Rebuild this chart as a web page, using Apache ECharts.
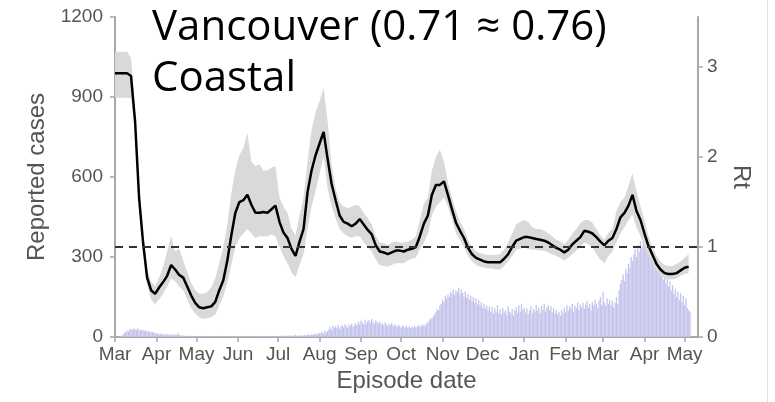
<!DOCTYPE html>
<html>
<head>
<meta charset="utf-8">
<script src="https://cdn.jsdelivr.net/npm/echarts@6/dist/echarts.min.js"></script>
<style>html,body{margin:0;padding:0;background:#fff}#chart{width:775px;height:402px}</style>
</head>
<body>
<div id="chart"></div>
<script>
// ---------- data ----------
const titleLines = ['Vancouver (0.71 \u2248 0.76)', 'Coastal'];
const startDate = '2020-03-01';
const endDate = '2021-05-11';
const monthTicks = ['2020-03-01','2020-04-01','2020-05-01','2020-06-01','2020-07-01','2020-08-01','2020-09-01',
  '2020-10-01','2020-11-01','2020-12-01','2021-01-01','2021-02-01','2021-03-01','2021-04-01','2021-05-01'];
const monthLabels = ['Mar','Apr','May','Jun','Jul','Aug','Sep','Oct','Nov','Dec','Jan','Feb','Mar','Apr','May'];
const caseTicks = [0, 300, 600, 900, 1200];
const rtTicks = [0, 1, 2, 3];

// daily reported cases, from startDate
const dailyCases = [
  0,1,0,2,3,5,8,15,20,24,
  22,28,30,26,32,29,27,33,25,28,
  24,27,22,25,20,23,18,21,17,19,
  14,12,15,10,13,9,12,8,11,10,
  7,9,8,10,6,9,7,15,8,6,
  5,7,4,6,3,5,4,3,5,2,
  4,3,2,4,3,2,3,4,2,3,
  2,3,4,2,3,2,4,3,2,3,
  2,3,2,4,2,3,2,3,4,2,
  3,2,4,3,2,3,2,3,2,4,
  3,2,3,5,2,3,4,2,3,2,
  3,4,2,3,2,4,3,5,2,3,
  4,3,5,3,4,6,3,5,4,6,
  5,7,4,6,5,8,4,6,5,7,
  6,5,8,6,7,9,6,10,8,12,
  9,14,11,16,13,20,12,24,18,22,
  30,38,26,42,35,40,33,45,30,38,
  44,36,48,40,35,47,42,50,38,44,
  52,45,58,48,62,55,46,66,50,60,
  64,52,68,57,48,62,55,50,58,46,
  52,44,55,48,42,50,45,53,40,47,
  44,38,46,41,35,43,39,36,42,34,
  40,33,38,36,42,35,39,44,37,45,
  42,48,40,50,55,62,70,68,78,85,
  95,105,100,118,125,140,132,155,145,160,
  150,170,162,180,158,175,168,185,160,178,
  165,150,172,148,160,140,155,135,150,128,
  145,122,138,118,130,110,125,105,118,100,
  115,96,112,88,108,95,120,90,105,85,
  110,92,100,82,115,95,88,105,80,100,
  112,90,118,95,125,102,110,92,108,85,
  100,115,88,105,95,120,98,110,90,118,
  102,125,95,112,120,100,115,92,108,88,
  100,85,95,80,102,88,110,92,120,98,
  115,105,125,95,118,108,130,100,122,112,
  128,105,120,135,110,125,100,132,118,140,
  125,108,135,150,120,170,130,115,145,125,
  140,118,135,110,128,150,125,175,200,215,
  235,210,255,240,275,260,300,285,310,330,
  300,345,320,360,335,370,340,355,315,330,
  295,310,280,300,260,285,245,270,230,255,
  215,240,200,225,190,210,175,195,160,180,
  150,170,140,165,130,155,120,145,110,100,
  95
];

// Rt estimates every rtStepDays days from startDate
const rtStepDays = 3;
const rtMean = [
  2.93,2.93,2.93,2.93,2.90,2.40,1.55,1.05,0.66,0.52,
  0.48,0.55,0.61,0.68,0.80,0.75,0.69,0.66,0.56,0.46,
  0.38,0.33,0.32,0.33,0.34,0.39,0.52,0.63,0.85,1.13,
  1.38,1.50,1.52,1.58,1.47,1.38,1.38,1.39,1.38,1.42,
  1.46,1.28,1.16,1.10,0.98,0.90,1.06,1.20,1.61,1.85,
  2.02,2.15,2.28,1.98,1.70,1.52,1.35,1.28,1.26,1.23,
  1.26,1.31,1.25,1.19,1.14,1.02,0.95,0.94,0.92,0.94,
  0.96,0.96,0.95,0.97,0.98,1.00,1.12,1.26,1.35,1.58,
  1.69,1.69,1.73,1.58,1.42,1.27,1.18,1.10,0.99,0.92,
  0.88,0.86,0.84,0.83,0.83,0.83,0.83,0.87,0.92,1.00,
  1.07,1.09,1.11,1.11,1.10,1.09,1.08,1.07,1.05,1.02,
  0.99,0.97,0.94,0.97,1.03,1.07,1.11,1.18,1.17,1.15,
  1.11,1.06,1.02,1.07,1.10,1.20,1.33,1.38,1.46,1.58,
  1.40,1.30,1.15,1.01,0.91,0.81,0.75,0.71,0.70,0.70,
  0.71,0.74,0.77,0.78
];
const rtUpper = [
  3.17,3.17,3.17,3.17,3.10,2.50,1.65,1.15,0.75,0.62,
  0.56,0.66,0.78,0.95,1.12,0.95,0.98,0.85,0.72,0.60,
  0.52,0.48,0.48,0.50,0.55,0.65,0.82,1.00,1.25,1.60,
  1.85,2.02,2.10,2.27,1.95,1.90,1.92,1.85,1.85,1.88,
  1.90,1.55,1.45,1.38,1.20,1.13,1.35,1.55,1.95,2.30,
  2.50,2.62,2.77,2.40,1.90,1.65,1.50,1.45,1.43,1.45,
  1.47,1.45,1.38,1.32,1.25,1.12,1.05,1.04,1.02,1.05,
  1.06,1.05,1.05,1.06,1.08,1.12,1.30,1.48,1.55,1.85,
  2.00,2.08,1.95,1.72,1.55,1.40,1.28,1.20,1.08,1.00,
  0.95,0.93,0.92,0.91,0.91,0.91,0.92,0.97,1.05,1.15,
  1.25,1.28,1.30,1.28,1.22,1.20,1.20,1.18,1.15,1.12,
  1.08,1.06,1.03,1.08,1.15,1.20,1.27,1.30,1.30,1.27,
  1.20,1.13,1.08,1.16,1.20,1.40,1.50,1.55,1.68,1.82,
  1.62,1.45,1.30,1.12,1.00,0.90,0.84,0.80,0.79,0.79,
  0.81,0.84,0.88,0.92
];
const rtLower = [
  2.66,2.66,2.66,2.66,2.65,2.30,1.45,0.95,0.58,0.42,
  0.36,0.42,0.48,0.56,0.65,0.62,0.56,0.52,0.42,0.32,
  0.26,0.22,0.20,0.21,0.22,0.25,0.35,0.45,0.60,0.80,
  1.00,1.10,1.15,1.20,1.15,1.10,1.12,1.12,1.12,1.14,
  1.12,1.00,0.90,0.82,0.72,0.66,0.80,0.92,1.20,1.45,
  1.62,1.82,2.00,1.65,1.45,1.32,1.20,1.15,1.12,1.10,
  1.12,1.12,1.05,1.00,0.95,0.86,0.80,0.79,0.78,0.80,
  0.82,0.82,0.82,0.85,0.87,0.88,0.98,1.05,1.15,1.35,
  1.45,1.50,1.55,1.45,1.30,1.15,1.08,1.00,0.90,0.84,
  0.80,0.78,0.77,0.76,0.76,0.75,0.75,0.79,0.84,0.90,
  0.97,0.98,1.00,0.98,0.97,0.97,0.96,0.96,0.94,0.92,
  0.90,0.88,0.85,0.88,0.92,0.96,1.00,1.05,1.03,1.00,
  0.92,0.86,0.82,0.90,0.95,1.05,1.15,1.22,1.30,1.36,
  1.22,1.12,1.00,0.90,0.82,0.74,0.69,0.65,0.64,0.64,
  0.65,0.68,0.70,0.71
];

// ---------- helpers ----------
function dayIndex(s) {
  const a = s.split('-').map(Number);
  const b = startDate.split('-').map(Number);
  return Math.round((Date.UTC(a[0], a[1] - 1, a[2]) - Date.UTC(b[0], b[1] - 1, b[2])) / 86400000);
}
const tickDays = monthTicks.map(dayIndex);
const labelByDay = {};
tickDays.forEach((d, i) => { labelByDay[d] = monthLabels[i]; });
const xMax = dayIndex(endDate);
const rtAxisMax = 3.556;

const caseData = dailyCases.map((v, i) => [i, v]);
const rtMeanData = rtMean.map((v, i) => [i * rtStepDays, v]);
const rtBandData = rtUpper.map((v, i) => [i * rtStepDays, v, rtLower[i]]);

const axisGrey = '#a8a8a8';
const labelGrey = '#555555';
const fontFam = '"Liberation Sans", Arial, sans-serif';

function renderBand(params, api) {
  if (params.dataIndex !== 0) return null;
  const pts = [];
  for (let i = 0; i < rtBandData.length; i++) pts.push(api.coord([rtBandData[i][0], rtBandData[i][1]]));
  for (let i = rtBandData.length - 1; i >= 0; i--) pts.push(api.coord([rtBandData[i][0], rtBandData[i][2]]));
  return {
    type: 'polygon',
    shape: { points: pts },
    style: { fill: '#d9d9d9', stroke: null }
  };
}

const chart = echarts.init(document.getElementById('chart'), null, { renderer: 'canvas' });
chart.setOption({
  animation: false,
  backgroundColor: '#ffffff',
  title: {
    text: titleLines.join('\n'),
    left: 147,
    top: -2,
    textStyle: { fontFamily: '"Open Sans", "Noto Sans", sans-serif', fontSize: 42, fontWeight: 'normal', color: '#000', lineHeight: 51 }
  },
  graphic: [{
    type: 'line', silent: true,
    shape: { x1: 767.5, y1: 0, x2: 767.5, y2: 402 },
    style: { stroke: '#e2e2e2', lineWidth: 1 }
  }],
  grid: { left: 115, right: 77, top: 17, bottom: 65, containLabel: false },
  xAxis: {
    type: 'value', min: 0, max: xMax,
    name: 'Episode date', nameLocation: 'middle', nameGap: 31,
    nameTextStyle: { fontFamily: fontFam, fontSize: 24, color: labelGrey },
    axisLine: { show: true, lineStyle: { color: axisGrey, width: 2 } },
    axisTick: { show: true, length: 5, lineStyle: { color: axisGrey, width: 1.5 }, customValues: tickDays },
    axisLabel: {
      customValues: tickDays, margin: 8, fontFamily: fontFam, fontSize: 19, color: labelGrey,
      formatter: v => labelByDay[Math.round(v)] || ''
    },
    splitLine: { show: false }
  },
  yAxis: [{
    type: 'value', min: 0, max: 1200, interval: 300, position: 'left',
    name: 'Reported cases', nameLocation: 'middle', nameGap: 66,
    nameTextStyle: { fontFamily: fontFam, fontSize: 24, color: labelGrey },
    axisLine: { show: true, lineStyle: { color: axisGrey, width: 2 } },
    axisTick: { show: true, length: 5, lineStyle: { color: axisGrey, width: 1.5 }, customValues: caseTicks },
    axisLabel: { customValues: caseTicks, margin: 12, fontFamily: fontFam, fontSize: 19, color: labelGrey, formatter: v => String(v) },
    splitLine: { show: false }
  }, {
    type: 'value', min: 0, max: rtAxisMax, position: 'right',
    name: 'Rt', nameLocation: 'middle', nameGap: 23, nameRotate: -90,
    nameTextStyle: { fontFamily: fontFam, fontSize: 24, color: labelGrey },
    axisLine: { show: true, lineStyle: { color: axisGrey, width: 2 } },
    axisTick: { show: true, length: 5, lineStyle: { color: axisGrey, width: 1.5 }, customValues: rtTicks },
    axisLabel: { customValues: rtTicks, margin: 9, fontFamily: fontFam, fontSize: 19, color: labelGrey, formatter: v => String(v) },
    splitLine: { show: false }
  }],
  series: [{
    name: 'Reported cases', type: 'bar', xAxisIndex: 0, yAxisIndex: 0,
    data: caseData, barWidth: 1.3, itemStyle: { color: '#c4c4ec' }, z: 1
  }, {
    name: 'Rt interval', type: 'custom', xAxisIndex: 0, yAxisIndex: 1,
    data: rtBandData, encode: { x: 0, y: [1, 2] },
    renderItem: renderBand, silent: true, z: 2, clip: true
  }, {
    name: 'Rt', type: 'line', yAxisIndex: 1, data: rtMeanData,
    symbol: 'none', lineStyle: { color: '#000', width: 2.5 }, z: 4,
    markLine: {
      silent: true, symbol: 'none', label: { show: false },
      lineStyle: { color: '#333', width: 1.8, type: [8, 6] },
      data: [{ yAxis: 1 }]
    }
  }]
});
</script>
</body>
</html>
